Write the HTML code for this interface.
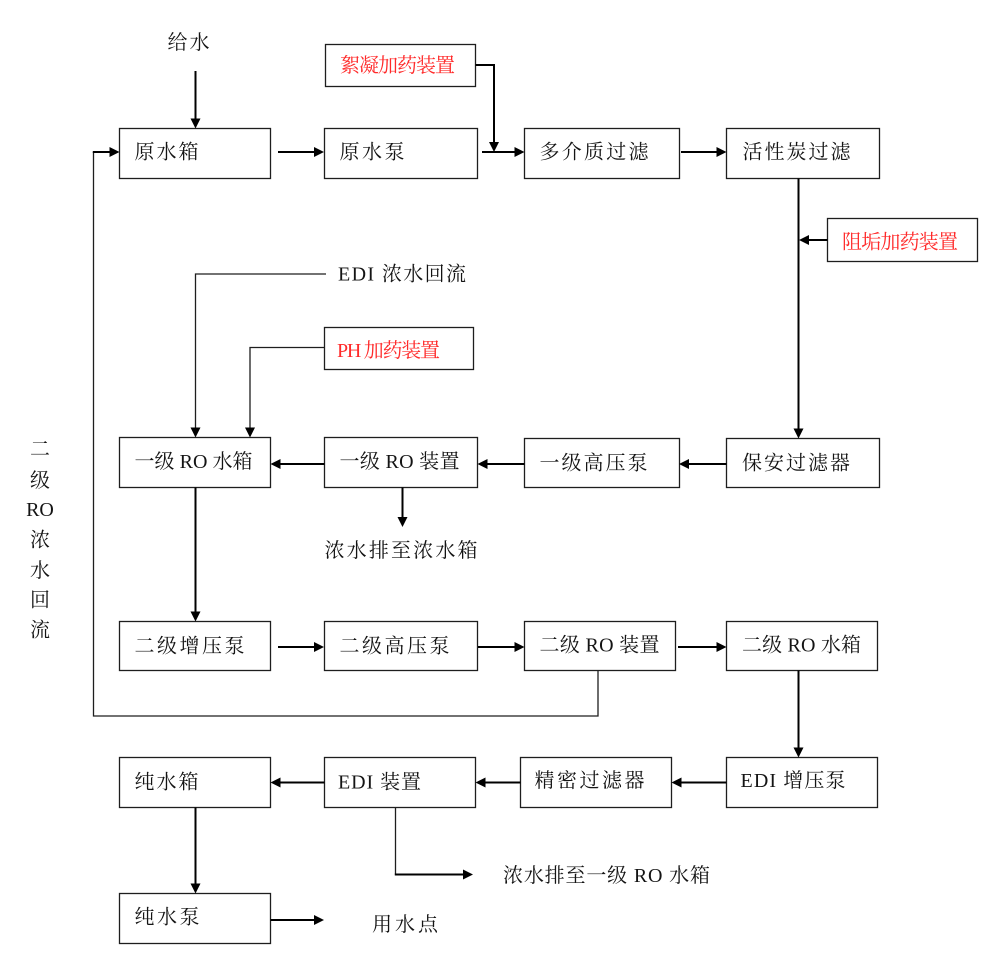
<!DOCTYPE html>
<html>
<head>
<meta charset="utf-8">
<style>
  html,body{margin:0;padding:0;background:#fff;}
  svg{display:block;}
  text{font-family:"Liberation Serif","Noto Serif CJK SC","Noto Sans CJK SC",serif;font-size:20px;fill:#141414;}
  .red{fill:#ff2a2a;}
  .box{fill:#fff;stroke:#1e1e1e;stroke-width:1.3;}
  .ln{stroke:#000;stroke-width:2;fill:none;}
  .thin{stroke:#1e1e1e;stroke-width:1.3;fill:none;}
  .ah{fill:#000;stroke:none;}
</style>
</head>
<body>
<svg width="1005" height="970" viewBox="0 0 1005 970" xmlns="http://www.w3.org/2000/svg">
  <rect x="0" y="0" width="1005" height="970" fill="#fff"/>

  <!-- Boxes -->
  <rect class="box" x="119.5" y="128.5" width="151" height="50"/>
  <rect class="box" x="324.5" y="128.5" width="153" height="50"/>
  <rect class="box" x="325.5" y="44.5" width="150" height="42"/>
  <rect class="box" x="524.5" y="128.5" width="155" height="50"/>
  <rect class="box" x="726.5" y="128.5" width="153" height="50"/>
  <rect class="box" x="827.5" y="218.5" width="150" height="43"/>
  <rect class="box" x="324.5" y="327.5" width="149" height="42"/>
  <rect class="box" x="119.5" y="437.5" width="151" height="50"/>
  <rect class="box" x="324.5" y="437.5" width="153" height="50"/>
  <rect class="box" x="524.5" y="438.5" width="155" height="49"/>
  <rect class="box" x="726.5" y="438.5" width="153" height="49"/>
  <rect class="box" x="119.5" y="621.5" width="151" height="49"/>
  <rect class="box" x="324.5" y="621.5" width="153" height="49"/>
  <rect class="box" x="524.5" y="621.5" width="151" height="49"/>
  <rect class="box" x="726.5" y="621.5" width="151" height="49"/>
  <rect class="box" x="726.5" y="757.5" width="151" height="50"/>
  <rect class="box" x="520.5" y="757.5" width="151" height="50"/>
  <rect class="box" x="324.5" y="757.5" width="151" height="50"/>
  <rect class="box" x="119.5" y="757.5" width="151" height="50"/>
  <rect class="box" x="119.5" y="893.5" width="151" height="50"/>

  <!-- Right arrows -->
  <line class="ln" x1="278" y1="152" x2="315" y2="152"/>
  <polygon class="ah" points="324,152 314,147 314,157"/>
  <line class="ln" x1="482" y1="152" x2="515" y2="152"/>
  <polygon class="ah" points="524.5,152 514.5,147 514.5,157"/>
  <line class="ln" x1="681" y1="152" x2="717" y2="152"/>
  <polygon class="ah" points="726.5,152 716.5,147 716.5,157"/>
  <line class="ln" x1="278" y1="647" x2="315" y2="647"/>
  <polygon class="ah" points="324,647 314,642 314,652"/>
  <line class="ln" x1="478" y1="647" x2="515" y2="647"/>
  <polygon class="ah" points="524.5,647 514.5,642 514.5,652"/>
  <line class="ln" x1="678" y1="647" x2="717" y2="647"/>
  <polygon class="ah" points="726.5,647 716.5,642 716.5,652"/>
  <line class="ln" x1="270.5" y1="920" x2="315" y2="920"/>
  <polygon class="ah" points="324,920 314,915 314,925"/>

  <!-- Left arrows -->
  <line class="ln" x1="827.5" y1="240" x2="808" y2="240"/>
  <polygon class="ah" points="799,240 809,235 809,245"/>
  <line class="ln" x1="726.5" y1="464" x2="688" y2="464"/>
  <polygon class="ah" points="679,464 689,459 689,469"/>
  <line class="ln" x1="524.5" y1="464" x2="486" y2="464"/>
  <polygon class="ah" points="477.5,464 487.5,459 487.5,469"/>
  <line class="ln" x1="324.5" y1="464" x2="280" y2="464"/>
  <polygon class="ah" points="270.5,464 280.5,459 280.5,469"/>
  <line class="ln" x1="726.5" y1="782.5" x2="680" y2="782.5"/>
  <polygon class="ah" points="671.5,782.5 681.5,777.5 681.5,787.5"/>
  <line class="ln" x1="520.5" y1="782.5" x2="484" y2="782.5"/>
  <polygon class="ah" points="475.5,782.5 485.5,777.5 485.5,787.5"/>
  <line class="ln" x1="324.5" y1="782.5" x2="280" y2="782.5"/>
  <polygon class="ah" points="270.5,782.5 280.5,777.5 280.5,787.5"/>

  <!-- Down arrows -->
  <line class="ln" x1="195.5" y1="71" x2="195.5" y2="119"/>
  <polygon class="ah" points="195.5,128.5 190.5,118.5 200.5,118.5"/>
  <line class="ln" x1="798.5" y1="178.5" x2="798.5" y2="429"/>
  <polygon class="ah" points="798.5,438.5 793.5,428.5 803.5,428.5"/>
  <line class="ln" x1="402.5" y1="487.5" x2="402.5" y2="518"/>
  <polygon class="ah" points="402.5,527 397.5,517 407.5,517"/>
  <line class="ln" x1="195.5" y1="487.5" x2="195.5" y2="612"/>
  <polygon class="ah" points="195.5,621.5 190.5,611.5 200.5,611.5"/>
  <line class="ln" x1="798.5" y1="670.5" x2="798.5" y2="748"/>
  <polygon class="ah" points="798.5,757.5 793.5,747.5 803.5,747.5"/>
  <line class="ln" x1="195.5" y1="807.5" x2="195.5" y2="884"/>
  <polygon class="ah" points="195.5,893.5 190.5,883.5 200.5,883.5"/>

  <!-- 絮凝 feed -->
  <polyline class="ln" points="475.5,65 494,65 494,143"/>
  <polygon class="ah" points="494,152 489,142 499,142"/>

  <!-- EDI 浓水回流 -->
  <polyline class="thin" points="326,274 195.5,274 195.5,428"/>
  <polygon class="ah" points="195.5,437.5 190.5,427.5 200.5,427.5"/>

  <!-- PH feed -->
  <polyline class="thin" points="324.5,347.5 250,347.5 250,428"/>
  <polygon class="ah" points="250,437.5 245,427.5 255,427.5"/>

  <!-- 二级RO 浓水回流 loop -->
  <polyline class="thin" points="598,670.5 598,716 93.5,716 93.5,152"/>
  <line class="ln" x1="92.8" y1="152" x2="110" y2="152"/>
  <polygon class="ah" points="119.5,152 109.5,147 109.5,157"/>

  <!-- EDI 浓水 -->
  <line class="thin" x1="395.5" y1="807.5" x2="395.5" y2="874.5"/>
  <line class="ln" x1="394.8" y1="874.5" x2="464" y2="874.5"/>
  <polygon class="ah" points="473,874.5 463,869.5 463,879.5"/>

  <!-- Texts -->
  <text x="167.5" y="49" textLength="42" lengthAdjust="spacing">给水</text>
  <text class="red" x="340" y="72" textLength="115" lengthAdjust="spacing">絮凝加药装置</text>
  <text x="134.5" y="158.5" textLength="64" lengthAdjust="spacing">原水箱</text>
  <text x="339.5" y="158.5" textLength="65" lengthAdjust="spacing">原水泵</text>
  <text x="539.5" y="158.7" textLength="109" lengthAdjust="spacing">多介质过滤</text>
  <text x="742.5" y="158.7" textLength="108" lengthAdjust="spacing">活性炭过滤</text>
  <text class="red" x="842" y="248.7" textLength="116" lengthAdjust="spacing">阻垢加药装置</text>
  <text x="338" y="280.3" textLength="128" lengthAdjust="spacing">EDI 浓水回流</text>
  <text class="red" x="337" y="357" textLength="103" lengthAdjust="spacing">PH 加药装置</text>
  <text x="134.5" y="468" textLength="118" lengthAdjust="spacing">一级 RO 水箱</text>
  <text x="339.5" y="468" textLength="120" lengthAdjust="spacing">一级 RO 装置</text>
  <text x="539.5" y="469.3" textLength="108" lengthAdjust="spacing">一级高压泵</text>
  <text x="742" y="469.3" textLength="108" lengthAdjust="spacing">保安过滤器</text>
  <text x="324.5" y="557" textLength="153" lengthAdjust="spacing">浓水排至浓水箱</text>
  <text x="134.5" y="652.5" textLength="110" lengthAdjust="spacing">二级增压泵</text>
  <text x="339.5" y="652.5" textLength="110" lengthAdjust="spacing">二级高压泵</text>
  <text x="539.5" y="651.5" textLength="120" lengthAdjust="spacing">二级 RO 装置</text>
  <text x="742" y="651.5" textLength="119" lengthAdjust="spacing">二级 RO 水箱</text>
  <text x="740.5" y="787" textLength="105" lengthAdjust="spacing">EDI 增压泵</text>
  <text x="534.5" y="787" textLength="110" lengthAdjust="spacing">精密过滤器</text>
  <text x="338" y="788.5" textLength="83" lengthAdjust="spacing">EDI 装置</text>
  <text x="134.5" y="788.5" textLength="64" lengthAdjust="spacing">纯水箱</text>
  <text x="134.5" y="923.7" textLength="65" lengthAdjust="spacing">纯水泵</text>
  <text x="372" y="931" textLength="66" lengthAdjust="spacing">用水点</text>
  <text x="503" y="882" textLength="207" lengthAdjust="spacing">浓水排至一级 RO 水箱</text>

  <!-- Vertical label -->
  <text x="40" y="455.5" text-anchor="middle">二</text>
  <text x="40" y="487" text-anchor="middle">级</text>
  <text x="40" y="516" text-anchor="middle">RO</text>
  <text x="40" y="546.5" text-anchor="middle">浓</text>
  <text x="40" y="577" text-anchor="middle">水</text>
  <text x="40" y="606.5" text-anchor="middle">回</text>
  <text x="40" y="636.5" text-anchor="middle">流</text>
</svg>
</body>
</html>
